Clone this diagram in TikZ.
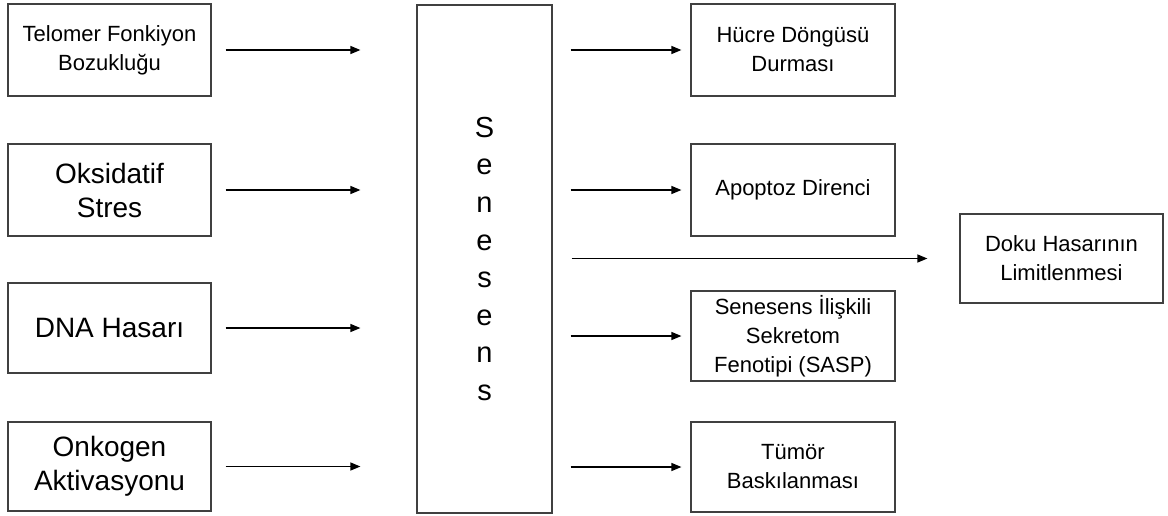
\documentclass[tikz,border=0pt]{standalone}
\usepackage{fontspec}
\setmainfont{Liberation Sans}
\usetikzlibrary{arrows.meta}
\begin{document}
\begin{tikzpicture}[x=1pt,y=-1pt,
  box/.style={draw=black!75, line width=1.2pt, rectangle, inner sep=0pt, align=center, fill=white},
  smalltxt/.style={font=\fontsize{22}{29}\selectfont},
  bigtxt/.style={font=\fontsize{28}{34}\selectfont},
  arr/.style={-{Triangle[length=10pt,width=8pt]}, line width=1.3pt, black}]
\useasboundingbox (0,0) rectangle (1168,515);
% left column
\node[box,smalltxt,minimum width=203pt,minimum height=92pt] (l1) at (109.5,50) {Telomer Fonkiyon\\Bozukluğu};
\node[box,bigtxt,minimum width=203pt,minimum height=92pt] (l2) at (109.5,190) {Oksidatif\\Stres};
\node[box,bigtxt,minimum width=203pt,minimum height=90pt] (l3) at (109.5,328) {DNA Hasarı};
\node[box,bigtxt,minimum width=203pt,minimum height=89pt] (l4) at (109.5,466.5) {Onkogen\\Aktivasyonu};
% centre
\node[box,minimum width=135pt,minimum height=508pt,font=\fontsize{29}{37.6}\selectfont] (sen) at (484.5,259) {S\\e\\n\\e\\s\\e\\n\\s};
% right column
\node[box,smalltxt,minimum width=204pt,minimum height=92pt] (r1) at (793,50) {Hücre Döngüsü\\Durması};
\node[box,smalltxt,minimum width=204pt,minimum height=92pt] (r2) at (793,190) {Apoptoz Direnci};
\node[box,smalltxt,minimum width=204pt,minimum height=90pt] (r3) at (793,336) {Senesens İlişkili\\Sekretom\\Fenotipi (SASP)};
\node[box,smalltxt,minimum width=204pt,minimum height=90pt] (r4) at (793,467) {Tümör\\Baskılanması};
\node[box,smalltxt,minimum width=203pt,minimum height=89pt] (doku) at (1061.5,258.5) {Doku Hasarının\\Limitlenmesi};
% arrows in
\foreach \n in {l1,l2,l3,l4}{
  \draw[arr, shorten <=14pt, shorten >=56pt] (\n.east) -- (sen.west |- \n.east);
}
% arrows out
\foreach \n in {r1,r2,r3,r4}{
  \draw[arr, shorten <=18pt, shorten >=9pt] (sen.east |- \n.west) -- (\n.west);
}
\draw[arr, shorten <=19pt, shorten >=32pt] (sen.east |- doku.west) -- (doku.west);
\end{tikzpicture}
\end{document}
